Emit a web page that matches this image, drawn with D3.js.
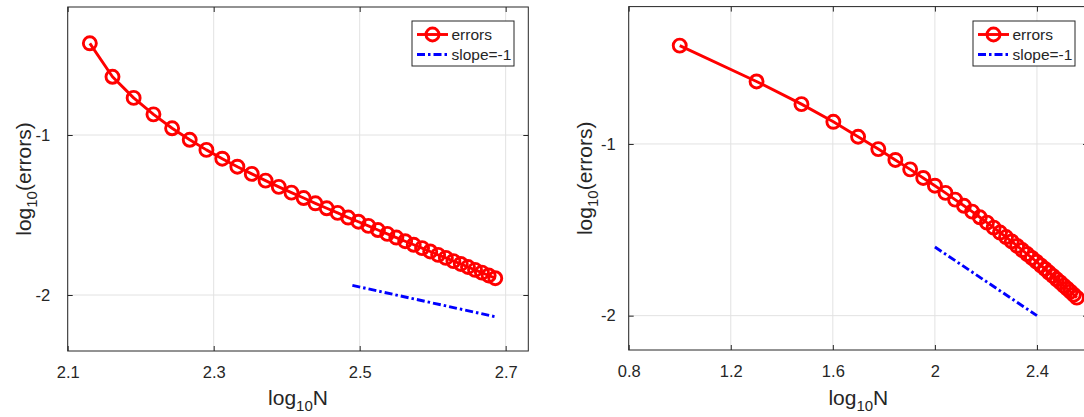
<!DOCTYPE html>
<html>
<head>
<meta charset="utf-8">
<script src="https://cdn.jsdelivr.net/npm/d3@7"></script>
<style>
  body { margin: 0; background: #fff; }
  svg { display: block; }
  text { font-family: "Liberation Sans", Arial, Helvetica, sans-serif; fill: #262626; }
</style>
</head>
<body>
<svg id="fig" width="1084" height="417"></svg>
<script>
// log10 of the error for each run (same error sequence in both panels)
const logErrors = [
  -0.427, -0.636, -0.768, -0.871, -0.958, -1.030, -1.093, -1.148, -1.198, -1.243,
  -1.285, -1.324, -1.360, -1.394, -1.427, -1.458, -1.487, -1.516, -1.542, -1.568,
  -1.594, -1.618, -1.641, -1.664, -1.686, -1.707, -1.728, -1.749, -1.768, -1.788,
  -1.806, -1.825, -1.843, -1.860, -1.878, -1.895
];
// problem sizes, left panel
const nLeft = [
  135, 145, 155, 165, 175, 185, 195, 205, 215, 225,
  235, 245, 255, 265, 275, 285, 295, 305, 315, 325,
  335, 345, 355, 365, 375, 385, 395, 405, 415, 425,
  435, 445, 455, 465, 475, 485
];
// problem sizes, right panel
const nRight = [
  10, 20, 30, 40, 50, 60, 70, 80, 90, 100,
  110, 120, 130, 140, 150, 160, 170, 180, 190, 200,
  210, 220, 230, 240, 250, 260, 270, 280, 290, 300,
  310, 320, 330, 340, 350, 360
];
// reference lines of slope -1 (endpoints in log10 units)
const slopeLeftX = [2.49, 2.685];
const slopeLeftY = [-1.94, -2.135];
const slopeRightX = [2.0, 2.4];
const slopeRightY = [-1.6, -2.0];
// tick labels
const leftXTicks = [2.1, 2.3, 2.5, 2.7];
const rightXTicks = [0.8, 1.2, 1.6, 2, 2.4];
const yTicks = [-1, -2];
const legendLabels = ["errors", "slope=-1"];

const svg = d3.select("#fig");
const AXIS = "#262626", GRID = "#e2e2e2", RED = "#ff0000", BLUE = "#0000ff";
const LW = 2.9, MR = 6.5;
const DASH = "8,3,2.5,3";
const fmt = d => String(d);

function drawPanel(p, idx) {
  const x = d3.scaleLinear().domain(p.xDomain).range([p.left, p.right]);
  const y = d3.scaleLinear().domain(p.yDomain).range([p.bottom, p.top]);
  const g = svg.append("g");

  const clipId = "clip" + idx;
  svg.append("clipPath").attr("id", clipId)
    .append("rect").attr("x", p.left).attr("y", p.top)
    .attr("width", p.right - p.left).attr("height", p.bottom - p.top);

  // grid
  g.append("g").selectAll("line").data(p.xTicks).join("line")
    .attr("x1", d => x(d)).attr("x2", d => x(d))
    .attr("y1", p.top).attr("y2", p.bottom)
    .attr("stroke", GRID).attr("stroke-width", 1);
  g.append("g").selectAll("line").data(yTicks).join("line")
    .attr("y1", d => y(d)).attr("y2", d => y(d))
    .attr("x1", p.left).attr("x2", p.right)
    .attr("stroke", GRID).attr("stroke-width", 1);

  // axes with inward ticks on all four sides
  const ax = (sel) => { sel.select(".domain").remove();
    sel.attr("font-size", null).attr("font-family", null);
    sel.selectAll(".tick line").attr("stroke", AXIS);
    sel.selectAll(".tick text").attr("fill", AXIS).style("font-size", "16.5px"); };
  g.append("g").attr("transform", `translate(0,${p.bottom})`)
    .call(d3.axisBottom(x).tickValues(p.xTicks).tickFormat(fmt).tickSize(-5).tickPadding(p.xPad)).call(ax);
  g.append("g").attr("transform", `translate(0,${p.top})`)
    .call(d3.axisTop(x).tickValues(p.xTicks).tickFormat("").tickSize(-5)).call(ax);
  g.append("g").attr("transform", `translate(${p.left},0)`)
    .call(d3.axisLeft(y).tickValues(yTicks).tickFormat(fmt).tickSize(-5).tickPadding(p.yPad)).call(ax);
  g.append("g").attr("transform", `translate(${p.right},0)`)
    .call(d3.axisRight(y).tickValues(yTicks).tickFormat("").tickSize(-5)).call(ax);

  // data
  const pts = p.n.map((n, i) => [Math.log10(n), logErrors[i]]);
  const plot = g.append("g").attr("clip-path", `url(#${clipId})`);
  plot.append("path").datum(pts)
    .attr("d", d3.line().x(d => x(d[0])).y(d => y(d[1])))
    .attr("fill", "none").attr("stroke", RED).attr("stroke-width", LW)
    .attr("stroke-linejoin", "round");
  plot.append("g").selectAll("circle").data(pts).join("circle")
    .attr("cx", d => x(d[0])).attr("cy", d => y(d[1])).attr("r", MR)
    .attr("fill", "none").attr("stroke", RED).attr("stroke-width", LW);
  const sl = p.slopeX.map((v, i) => [v, p.slopeY[i]]);
  plot.append("path").datum(sl)
    .attr("d", d3.line().x(d => x(d[0])).y(d => y(d[1])))
    .attr("fill", "none").attr("stroke", BLUE).attr("stroke-width", LW)
    .attr("stroke-dasharray", DASH);

  // box
  g.append("rect").attr("x", p.left).attr("y", p.top)
    .attr("width", p.right - p.left).attr("height", p.bottom - p.top)
    .attr("fill", "none").attr("stroke", AXIS).attr("stroke-width", 1);

  // axis labels
  const xl = g.append("text").attr("x", (p.left + p.right) / 2).attr("y", 405)
    .attr("text-anchor", "middle").style("font-size", "21px");
  xl.append("tspan").text("log");
  xl.append("tspan").attr("dy", 6).style("font-size", "15px").text("10");
  xl.append("tspan").attr("dy", -6).text("N");

  const yl = g.append("text")
    .attr("transform", `translate(${p.yLabelX},${(p.top + p.bottom) / 2}) rotate(-90)`)
    .attr("text-anchor", "middle").style("font-size", "21px");
  yl.append("tspan").text("log");
  yl.append("tspan").attr("dy", 6).style("font-size", "15px").text("10");
  yl.append("tspan").attr("dy", -6).text("(errors)");

  // legend
  const L = g.append("g").attr("transform", `translate(${p.legX},${p.legY})`);
  L.append("rect").attr("width", 102).attr("height", 45)
    .attr("fill", "#fff").attr("stroke", AXIS).attr("stroke-width", 1);
  L.append("line").attr("x1", 5).attr("x2", 36).attr("y1", 13.5).attr("y2", 13.5)
    .attr("stroke", RED).attr("stroke-width", LW);
  L.append("circle").attr("cx", 20.5).attr("cy", 13.5).attr("r", MR)
    .attr("fill", "none").attr("stroke", RED).attr("stroke-width", LW);
  L.append("line").attr("x1", 5).attr("x2", 36).attr("y1", 33.5).attr("y2", 33.5)
    .attr("stroke", BLUE).attr("stroke-width", LW).attr("stroke-dasharray", DASH);
  L.selectAll("text.lab").data(legendLabels).join("text").attr("class", "lab")
    .attr("x", 39.5).attr("y", (d, i) => 13.5 + 20 * i).attr("dy", "0.35em")
    .style("font-size", "15.5px").text(d => d);
}

drawPanel({
  n: nLeft, xDomain: [2.1, 2.731], yDomain: [-2.35, -0.2], xTicks: leftXTicks,
  left: 67.7, right: 528.3, top: 7, bottom: 351,
  slopeX: slopeLeftX, slopeY: slopeLeftY,
  xPad: 15, yPad: 17.5, yLabelX: 31, legX: 412, legY: 21
}, 0);

drawPanel({
  n: nRight, xDomain: [0.8, 2.6], yDomain: [-2.2, -0.2], xTicks: rightXTicks,
  left: 628.7, right: 1088, top: 6.6, bottom: 350,
  slopeX: slopeRightX, slopeY: slopeRightY,
  xPad: 15, yPad: 13, yLabelX: 592, legX: 973, legY: 21
}, 1);
</script>
</body>
</html>
